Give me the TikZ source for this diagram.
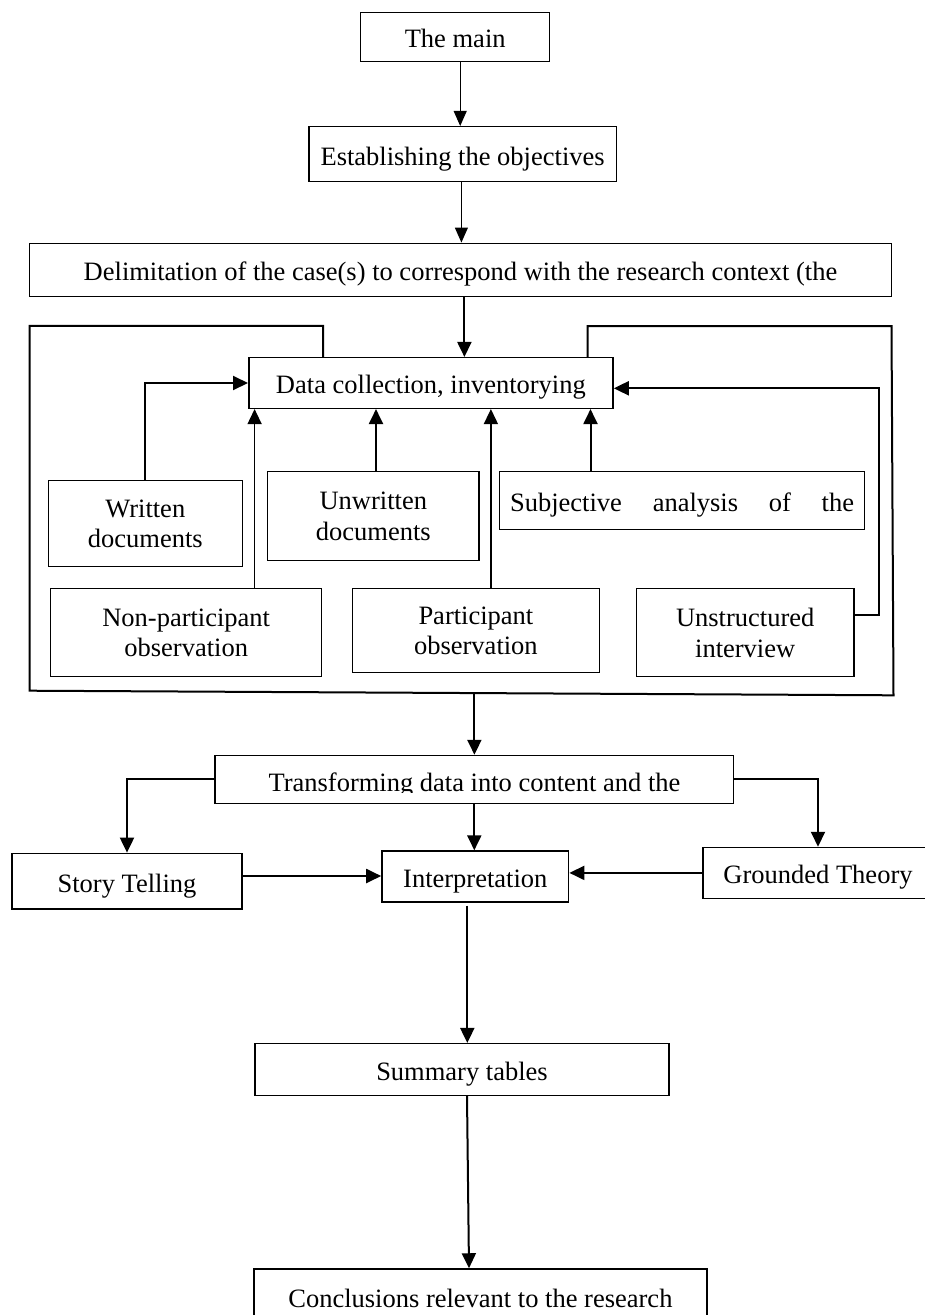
\documentclass[tikz,border=0pt]{standalone}
\usepackage{fontspec}
\setmainfont{Liberation Serif}
\usetikzlibrary{arrows.meta,calc}
\newcommand\boxfont{\fontsize{26.5pt}{30.5pt}\selectfont}
\begin{document}
\begin{tikzpicture}[x=1pt,y=-1pt,
  box/.style={draw, line width=1.5pt, inner sep=0pt, align=center, font=\boxfont},
  oneline/.style={text height=21.6pt, text depth=0pt},
  txt/.style={inner sep=0pt, font=\boxfont},
  thinarrow/.style={line width=1pt, -{Triangle[length=15pt,width=13pt]}},
  arr/.style={line width=2pt, -{Triangle[length=15pt,width=14pt]}},
  lightarr/.style={line width=1.4pt, -{Triangle[length=15pt,width=14pt]}},
  frame/.style={line width=2pt, line join=miter}]
\useasboundingbox (0,0) rectangle (924,1315);

% top chain
\node[box, oneline, minimum width=189pt, minimum height=49pt] (main) at (455.2,36.8) {The main};
\node[box, oneline, minimum width=307.6pt, minimum height=55pt] (est) at (462.6,154.2) {Establishing the objectives};
\node[box, oneline, minimum width=862pt, minimum height=53.4pt] (delim) at (460.5,270) {Delimitation of the case(s) to correspond with the research context (the};

% data collection block
\node[box, oneline, minimum width=364.3pt, minimum height=50.6pt] (data) at (430.9,383) {Data collection, inventorying};
\node[box, minimum width=194pt, minimum height=86pt] (written) at (145.3,523.7) {Written\\documents};
\node[box, minimum width=211.5pt, minimum height=89pt] (unwritten) at (373.3,516.2) {Unwritten\\documents};
\node[box, oneline, minimum width=364.8pt, minimum height=57.6pt] (subj) at (682.1,500.5) {\makebox[344pt][s]{Subjective analysis of the}};
\node[box, minimum width=271pt, minimum height=88pt] (nonpart) at (186.2,632.7) {Non-participant\\observation};
\node[box, minimum width=247pt, minimum height=84pt] (part) at (475.9,630.7) {Participant\\observation};
\node[box, minimum width=217.5pt, minimum height=88pt] (unstr) at (745.2,632.7) {Unstructured\\interview};

% analysis
\node[box, minimum width=518.6pt, minimum height=47.8pt] (trans) at (474.3,779.4) {};
\begin{scope}
  \clip (trans.north west) rectangle (733.6,792.7);
  \node[txt, anchor=base] (transtext) at (474.5,791.5) {Transforming data into content and the};
\end{scope}
\node[box, oneline, minimum width=230.4pt, minimum height=55.7pt] (story) at (127,881.2) {Story Telling};
\node[box, oneline, minimum width=186.7pt, minimum height=50.7pt] (interp) at (475.3,876.4) {Interpretation};
\node[box, oneline, minimum width=230pt, minimum height=50.8pt] (grounded) at (818,872.9) {Grounded Theory};
\node[box, oneline, minimum width=414pt, minimum height=51.6pt] (summary) at (462,1069.5) {Summary tables};
\node[box, oneline, minimum width=452.7pt, minimum height=56pt] (concl) at (480.4,1297) {Conclusions relevant to the research};

% arrows of the top chain
\draw[thinarrow] ([xshift=5pt]main.south) -- ([xshift=5pt]main.south |- est.north);
\draw[thinarrow] ([xshift=-1.2pt]est.south) -- ([xshift=-1.2pt]est.south |- delim.north);
\draw[arr] ([xshift=3.9pt]delim.south) -- ([xshift=3.9pt]delim.south |- data.north);

% frame round the data collection block
\coordinate (fbl) at (29.5,690.7);
\coordinate (fbr) at (893.5,695.3);
\coordinate (fout) at (474.4,693.2);
\draw[frame] ([xshift=-107.9pt]data.north) -- ++(0,-31) -| (fbl) -- (fbr)
  -- (891.5,326) -| ([xshift=156.6pt]data.north);

% inputs to data collection
\draw[arr] (written.north) |- (data.west);
\draw[arr] ([xshift=2.7pt]unwritten.north) -- ([xshift=2.7pt]unwritten.north |- data.south);
\draw[arr] ([xshift=-91.6pt]subj.north) -- ([xshift=-91.6pt]subj.north |- data.south);
\draw[lightarr] ([xshift=68.4pt]nonpart.north) -- ([xshift=68.4pt]nonpart.north |- data.south);
\draw[lightarr] ([xshift=15pt]part.north) -- ([xshift=15pt]part.north |- data.south);
\draw[arr] ([yshift=17.7pt]unstr.east) -- ++(24,0) |- ([yshift=-5.3pt]data.east);

% analysis arrows
\draw[arr] (fout) -- (fout |- trans.north);
\draw[arr] (trans.west) -| (story.north);
\draw[arr] (trans.east) -| (grounded.north);
\draw[arr] (trans.south) -- (trans.south |- interp.north);
\draw[arr] ([yshift=5.2pt]story.east) -- ([yshift=5.2pt]story.east -| interp.west);
\draw[arr] (grounded.west) -- (grounded.west -| interp.east);
\draw[arr] ([xshift=-8pt,yshift=-3pt]interp.south) -- ([xshift=-8pt]interp.south |- summary.north);
\draw[arr] ([xshift=5pt]summary.south) -- ([xshift=-11.4pt]concl.north);
\end{tikzpicture}
\end{document}
